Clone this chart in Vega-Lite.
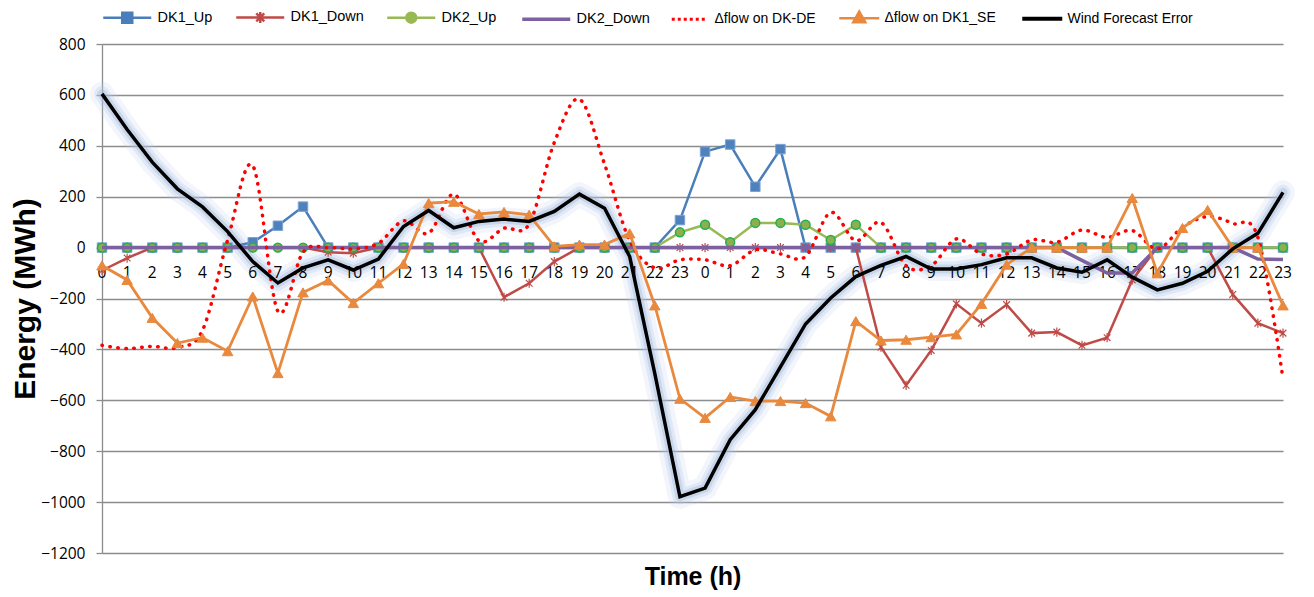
{
"$schema": "https://vega.github.io/schema/vega-lite/v6.json",
"width": 1181, "height": 509,
"autosize": {"type": "none"},
"padding": {"left": 102, "top": 44, "right": 31, "bottom": 44},
"background": "white",
"config": {"view": {"stroke": null}},
"data": {"values": [
{"i":0,"h":0,"s":"DK1_Up","v":0},{"i":1,"h":1,"s":"DK1_Up","v":0},{"i":2,"h":2,"s":"DK1_Up","v":0},{"i":3,"h":3,"s":"DK1_Up","v":0},{"i":4,"h":4,"s":"DK1_Up","v":0},{"i":5,"h":5,"s":"DK1_Up","v":0},{"i":6,"h":6,"s":"DK1_Up","v":21},{"i":7,"h":7,"s":"DK1_Up","v":86},{"i":8,"h":8,"s":"DK1_Up","v":161},{"i":9,"h":9,"s":"DK1_Up","v":0},{"i":10,"h":10,"s":"DK1_Up","v":0},{"i":11,"h":11,"s":"DK1_Up","v":0},{"i":12,"h":12,"s":"DK1_Up","v":0},{"i":13,"h":13,"s":"DK1_Up","v":0},{"i":14,"h":14,"s":"DK1_Up","v":0},{"i":15,"h":15,"s":"DK1_Up","v":0},{"i":16,"h":16,"s":"DK1_Up","v":0},{"i":17,"h":17,"s":"DK1_Up","v":0},{"i":18,"h":18,"s":"DK1_Up","v":0},{"i":19,"h":19,"s":"DK1_Up","v":0},{"i":20,"h":20,"s":"DK1_Up","v":0},{"i":21,"h":21,"s":"DK1_Up","v":0},{"i":22,"h":22,"s":"DK1_Up","v":0},{"i":23,"h":23,"s":"DK1_Up","v":108},
{"i":24,"h":0,"s":"DK1_Up","v":377},{"i":25,"h":1,"s":"DK1_Up","v":405},{"i":26,"h":2,"s":"DK1_Up","v":239},{"i":27,"h":3,"s":"DK1_Up","v":387},{"i":28,"h":4,"s":"DK1_Up","v":0},{"i":29,"h":5,"s":"DK1_Up","v":0},{"i":30,"h":6,"s":"DK1_Up","v":0},{"i":31,"h":7,"s":"DK1_Up","v":0},{"i":32,"h":8,"s":"DK1_Up","v":0},{"i":33,"h":9,"s":"DK1_Up","v":0},{"i":34,"h":10,"s":"DK1_Up","v":0},{"i":35,"h":11,"s":"DK1_Up","v":0},{"i":36,"h":12,"s":"DK1_Up","v":0},{"i":37,"h":13,"s":"DK1_Up","v":0},{"i":38,"h":14,"s":"DK1_Up","v":0},{"i":39,"h":15,"s":"DK1_Up","v":0},{"i":40,"h":16,"s":"DK1_Up","v":0},{"i":41,"h":17,"s":"DK1_Up","v":0},{"i":42,"h":18,"s":"DK1_Up","v":0},{"i":43,"h":19,"s":"DK1_Up","v":0},{"i":44,"h":20,"s":"DK1_Up","v":0},{"i":45,"h":21,"s":"DK1_Up","v":0},{"i":46,"h":22,"s":"DK1_Up","v":0},{"i":47,"h":23,"s":"DK1_Up","v":0},
{"i":0,"h":0,"s":"DK1_Down","v":-90},{"i":1,"h":1,"s":"DK1_Down","v":-41},{"i":2,"h":2,"s":"DK1_Down","v":0},{"i":3,"h":3,"s":"DK1_Down","v":0},{"i":4,"h":4,"s":"DK1_Down","v":0},{"i":5,"h":5,"s":"DK1_Down","v":0},{"i":6,"h":6,"s":"DK1_Down","v":0},{"i":7,"h":7,"s":"DK1_Down","v":0},{"i":8,"h":8,"s":"DK1_Down","v":0},{"i":9,"h":9,"s":"DK1_Down","v":-18},{"i":10,"h":10,"s":"DK1_Down","v":-22},{"i":11,"h":11,"s":"DK1_Down","v":0},{"i":12,"h":12,"s":"DK1_Down","v":0},{"i":13,"h":13,"s":"DK1_Down","v":0},{"i":14,"h":14,"s":"DK1_Down","v":0},{"i":15,"h":15,"s":"DK1_Down","v":0},{"i":16,"h":16,"s":"DK1_Down","v":-195},{"i":17,"h":17,"s":"DK1_Down","v":-140},{"i":18,"h":18,"s":"DK1_Down","v":-55},{"i":19,"h":19,"s":"DK1_Down","v":0},{"i":20,"h":20,"s":"DK1_Down","v":0},{"i":21,"h":21,"s":"DK1_Down","v":0},{"i":22,"h":22,"s":"DK1_Down","v":0},{"i":23,"h":23,"s":"DK1_Down","v":0},
{"i":24,"h":0,"s":"DK1_Down","v":0},{"i":25,"h":1,"s":"DK1_Down","v":0},{"i":26,"h":2,"s":"DK1_Down","v":0},{"i":27,"h":3,"s":"DK1_Down","v":0},{"i":28,"h":4,"s":"DK1_Down","v":0},{"i":29,"h":5,"s":"DK1_Down","v":0},{"i":30,"h":6,"s":"DK1_Down","v":0},{"i":31,"h":7,"s":"DK1_Down","v":-391},{"i":32,"h":8,"s":"DK1_Down","v":-541},{"i":33,"h":9,"s":"DK1_Down","v":-404},{"i":34,"h":10,"s":"DK1_Down","v":-221},{"i":35,"h":11,"s":"DK1_Down","v":-297},{"i":36,"h":12,"s":"DK1_Down","v":-224},{"i":37,"h":13,"s":"DK1_Down","v":-336},{"i":38,"h":14,"s":"DK1_Down","v":-332},{"i":39,"h":15,"s":"DK1_Down","v":-384},{"i":40,"h":16,"s":"DK1_Down","v":-354},{"i":41,"h":17,"s":"DK1_Down","v":-127},{"i":42,"h":18,"s":"DK1_Down","v":0},{"i":43,"h":19,"s":"DK1_Down","v":0},{"i":44,"h":20,"s":"DK1_Down","v":0},{"i":45,"h":21,"s":"DK1_Down","v":-184},{"i":46,"h":22,"s":"DK1_Down","v":-297},{"i":47,"h":23,"s":"DK1_Down","v":-336},
{"i":0,"h":0,"s":"DK2_Up","v":0},{"i":1,"h":1,"s":"DK2_Up","v":0},{"i":2,"h":2,"s":"DK2_Up","v":0},{"i":3,"h":3,"s":"DK2_Up","v":0},{"i":4,"h":4,"s":"DK2_Up","v":0},{"i":5,"h":5,"s":"DK2_Up","v":0},{"i":6,"h":6,"s":"DK2_Up","v":0},{"i":7,"h":7,"s":"DK2_Up","v":0},{"i":8,"h":8,"s":"DK2_Up","v":0},{"i":9,"h":9,"s":"DK2_Up","v":0},{"i":10,"h":10,"s":"DK2_Up","v":0},{"i":11,"h":11,"s":"DK2_Up","v":0},{"i":12,"h":12,"s":"DK2_Up","v":0},{"i":13,"h":13,"s":"DK2_Up","v":0},{"i":14,"h":14,"s":"DK2_Up","v":0},{"i":15,"h":15,"s":"DK2_Up","v":0},{"i":16,"h":16,"s":"DK2_Up","v":0},{"i":17,"h":17,"s":"DK2_Up","v":0},{"i":18,"h":18,"s":"DK2_Up","v":0},{"i":19,"h":19,"s":"DK2_Up","v":0},{"i":20,"h":20,"s":"DK2_Up","v":0},{"i":21,"h":21,"s":"DK2_Up","v":0},{"i":22,"h":22,"s":"DK2_Up","v":0},{"i":23,"h":23,"s":"DK2_Up","v":60},
{"i":24,"h":0,"s":"DK2_Up","v":90},{"i":25,"h":1,"s":"DK2_Up","v":21},{"i":26,"h":2,"s":"DK2_Up","v":97},{"i":27,"h":3,"s":"DK2_Up","v":97},{"i":28,"h":4,"s":"DK2_Up","v":90},{"i":29,"h":5,"s":"DK2_Up","v":30},{"i":30,"h":6,"s":"DK2_Up","v":90},{"i":31,"h":7,"s":"DK2_Up","v":0},{"i":32,"h":8,"s":"DK2_Up","v":0},{"i":33,"h":9,"s":"DK2_Up","v":0},{"i":34,"h":10,"s":"DK2_Up","v":0},{"i":35,"h":11,"s":"DK2_Up","v":0},{"i":36,"h":12,"s":"DK2_Up","v":0},{"i":37,"h":13,"s":"DK2_Up","v":0},{"i":38,"h":14,"s":"DK2_Up","v":0},{"i":39,"h":15,"s":"DK2_Up","v":0},{"i":40,"h":16,"s":"DK2_Up","v":0},{"i":41,"h":17,"s":"DK2_Up","v":0},{"i":42,"h":18,"s":"DK2_Up","v":0},{"i":43,"h":19,"s":"DK2_Up","v":0},{"i":44,"h":20,"s":"DK2_Up","v":0},{"i":45,"h":21,"s":"DK2_Up","v":0},{"i":46,"h":22,"s":"DK2_Up","v":0},{"i":47,"h":23,"s":"DK2_Up","v":0},
{"i":0,"h":0,"s":"DK2_Down","v":0},{"i":1,"h":1,"s":"DK2_Down","v":0},{"i":2,"h":2,"s":"DK2_Down","v":0},{"i":3,"h":3,"s":"DK2_Down","v":0},{"i":4,"h":4,"s":"DK2_Down","v":0},{"i":5,"h":5,"s":"DK2_Down","v":0},{"i":6,"h":6,"s":"DK2_Down","v":0},{"i":7,"h":7,"s":"DK2_Down","v":0},{"i":8,"h":8,"s":"DK2_Down","v":0},{"i":9,"h":9,"s":"DK2_Down","v":0},{"i":10,"h":10,"s":"DK2_Down","v":0},{"i":11,"h":11,"s":"DK2_Down","v":0},{"i":12,"h":12,"s":"DK2_Down","v":0},{"i":13,"h":13,"s":"DK2_Down","v":0},{"i":14,"h":14,"s":"DK2_Down","v":0},{"i":15,"h":15,"s":"DK2_Down","v":0},{"i":16,"h":16,"s":"DK2_Down","v":0},{"i":17,"h":17,"s":"DK2_Down","v":0},{"i":18,"h":18,"s":"DK2_Down","v":0},{"i":19,"h":19,"s":"DK2_Down","v":0},{"i":20,"h":20,"s":"DK2_Down","v":0},{"i":21,"h":21,"s":"DK2_Down","v":0},{"i":22,"h":22,"s":"DK2_Down","v":0},{"i":23,"h":23,"s":"DK2_Down","v":0},
{"i":24,"h":0,"s":"DK2_Down","v":0},{"i":25,"h":1,"s":"DK2_Down","v":0},{"i":26,"h":2,"s":"DK2_Down","v":0},{"i":27,"h":3,"s":"DK2_Down","v":0},{"i":28,"h":4,"s":"DK2_Down","v":0},{"i":29,"h":5,"s":"DK2_Down","v":0},{"i":30,"h":6,"s":"DK2_Down","v":0},{"i":31,"h":7,"s":"DK2_Down","v":0},{"i":32,"h":8,"s":"DK2_Down","v":0},{"i":33,"h":9,"s":"DK2_Down","v":0},{"i":34,"h":10,"s":"DK2_Down","v":0},{"i":35,"h":11,"s":"DK2_Down","v":0},{"i":36,"h":12,"s":"DK2_Down","v":0},{"i":37,"h":13,"s":"DK2_Down","v":0},{"i":38,"h":14,"s":"DK2_Down","v":0},{"i":39,"h":15,"s":"DK2_Down","v":-50},{"i":40,"h":16,"s":"DK2_Down","v":-100},{"i":41,"h":17,"s":"DK2_Down","v":-100},{"i":42,"h":18,"s":"DK2_Down","v":0},{"i":43,"h":19,"s":"DK2_Down","v":0},{"i":44,"h":20,"s":"DK2_Down","v":0},{"i":45,"h":21,"s":"DK2_Down","v":0},{"i":46,"h":22,"s":"DK2_Down","v":-45},{"i":47,"h":23,"s":"DK2_Down","v":-47},
{"i":0,"h":0,"s":"Δflow on DK-DE","v":-384},{"i":1,"h":1,"s":"Δflow on DK-DE","v":-397},{"i":2,"h":2,"s":"Δflow on DK-DE","v":-388},{"i":3,"h":3,"s":"Δflow on DK-DE","v":-393},{"i":4,"h":4,"s":"Δflow on DK-DE","v":-325},{"i":5,"h":5,"s":"Δflow on DK-DE","v":30},{"i":6,"h":6,"s":"Δflow on DK-DE","v":322},{"i":7,"h":7,"s":"Δflow on DK-DE","v":-250},{"i":8,"h":8,"s":"Δflow on DK-DE","v":-18},{"i":9,"h":9,"s":"Δflow on DK-DE","v":0},{"i":10,"h":10,"s":"Δflow on DK-DE","v":-5},{"i":11,"h":11,"s":"Δflow on DK-DE","v":17},{"i":12,"h":12,"s":"Δflow on DK-DE","v":105},{"i":13,"h":13,"s":"Δflow on DK-DE","v":57},{"i":14,"h":14,"s":"Δflow on DK-DE","v":210},{"i":15,"h":15,"s":"Δflow on DK-DE","v":27},{"i":16,"h":16,"s":"Δflow on DK-DE","v":76},{"i":17,"h":17,"s":"Δflow on DK-DE","v":93},{"i":18,"h":18,"s":"Δflow on DK-DE","v":413},{"i":19,"h":19,"s":"Δflow on DK-DE","v":583},{"i":20,"h":20,"s":"Δflow on DK-DE","v":328},{"i":21,"h":21,"s":"Δflow on DK-DE","v":27},{"i":22,"h":22,"s":"Δflow on DK-DE","v":-80},{"i":23,"h":23,"s":"Δflow on DK-DE","v":-48},
{"i":24,"h":0,"s":"Δflow on DK-DE","v":-48},{"i":25,"h":1,"s":"Δflow on DK-DE","v":-71},{"i":26,"h":2,"s":"Δflow on DK-DE","v":-9},{"i":27,"h":3,"s":"Δflow on DK-DE","v":-25},{"i":28,"h":4,"s":"Δflow on DK-DE","v":-35},{"i":29,"h":5,"s":"Δflow on DK-DE","v":138},{"i":30,"h":6,"s":"Δflow on DK-DE","v":27},{"i":31,"h":7,"s":"Δflow on DK-DE","v":99},{"i":32,"h":8,"s":"Δflow on DK-DE","v":-71},{"i":33,"h":9,"s":"Δflow on DK-DE","v":-71},{"i":34,"h":10,"s":"Δflow on DK-DE","v":34},{"i":35,"h":11,"s":"Δflow on DK-DE","v":-25},{"i":36,"h":12,"s":"Δflow on DK-DE","v":-25},{"i":37,"h":13,"s":"Δflow on DK-DE","v":30},{"i":38,"h":14,"s":"Δflow on DK-DE","v":21},{"i":39,"h":15,"s":"Δflow on DK-DE","v":69},{"i":40,"h":16,"s":"Δflow on DK-DE","v":40},{"i":41,"h":17,"s":"Δflow on DK-DE","v":67},{"i":42,"h":18,"s":"Δflow on DK-DE","v":-5},{"i":43,"h":19,"s":"Δflow on DK-DE","v":80},{"i":44,"h":20,"s":"Δflow on DK-DE","v":122},{"i":45,"h":21,"s":"Δflow on DK-DE","v":95},{"i":46,"h":22,"s":"Δflow on DK-DE","v":40},{"i":47,"h":23,"s":"Δflow on DK-DE","v":-515},
{"i":0,"h":0,"s":"Δflow on DK1_SE","v":-70},{"i":1,"h":1,"s":"Δflow on DK1_SE","v":-127},{"i":2,"h":2,"s":"Δflow on DK1_SE","v":-276},{"i":3,"h":3,"s":"Δflow on DK1_SE","v":-375},{"i":4,"h":4,"s":"Δflow on DK1_SE","v":-354},{"i":5,"h":5,"s":"Δflow on DK1_SE","v":-407},{"i":6,"h":6,"s":"Δflow on DK1_SE","v":-192},{"i":7,"h":7,"s":"Δflow on DK1_SE","v":-493},{"i":8,"h":8,"s":"Δflow on DK1_SE","v":-176},{"i":9,"h":9,"s":"Δflow on DK1_SE","v":-129},{"i":10,"h":10,"s":"Δflow on DK1_SE","v":-218},{"i":11,"h":11,"s":"Δflow on DK1_SE","v":-140},{"i":12,"h":12,"s":"Δflow on DK1_SE","v":-64},{"i":13,"h":13,"s":"Δflow on DK1_SE","v":175},{"i":14,"h":14,"s":"Δflow on DK1_SE","v":180},{"i":15,"h":15,"s":"Δflow on DK1_SE","v":132},{"i":16,"h":16,"s":"Δflow on DK1_SE","v":140},{"i":17,"h":17,"s":"Δflow on DK1_SE","v":129},{"i":18,"h":18,"s":"Δflow on DK1_SE","v":5},{"i":19,"h":19,"s":"Δflow on DK1_SE","v":12},{"i":20,"h":20,"s":"Δflow on DK1_SE","v":12},{"i":21,"h":21,"s":"Δflow on DK1_SE","v":56},{"i":22,"h":22,"s":"Δflow on DK1_SE","v":-227},{"i":23,"h":23,"s":"Δflow on DK1_SE","v":-594},
{"i":24,"h":0,"s":"Δflow on DK1_SE","v":-669},{"i":25,"h":1,"s":"Δflow on DK1_SE","v":-587},{"i":26,"h":2,"s":"Δflow on DK1_SE","v":-603},{"i":27,"h":3,"s":"Δflow on DK1_SE","v":-603},{"i":28,"h":4,"s":"Δflow on DK1_SE","v":-611},{"i":29,"h":5,"s":"Δflow on DK1_SE","v":-663},{"i":30,"h":6,"s":"Δflow on DK1_SE","v":-289},{"i":31,"h":7,"s":"Δflow on DK1_SE","v":-365},{"i":32,"h":8,"s":"Δflow on DK1_SE","v":-362},{"i":33,"h":9,"s":"Δflow on DK1_SE","v":-352},{"i":34,"h":10,"s":"Δflow on DK1_SE","v":-341},{"i":35,"h":11,"s":"Δflow on DK1_SE","v":-221},{"i":36,"h":12,"s":"Δflow on DK1_SE","v":-67},{"i":37,"h":13,"s":"Δflow on DK1_SE","v":0},{"i":38,"h":14,"s":"Δflow on DK1_SE","v":0},{"i":39,"h":15,"s":"Δflow on DK1_SE","v":0},{"i":40,"h":16,"s":"Δflow on DK1_SE","v":0},{"i":41,"h":17,"s":"Δflow on DK1_SE","v":195},{"i":42,"h":18,"s":"Δflow on DK1_SE","v":-101},{"i":43,"h":19,"s":"Δflow on DK1_SE","v":77},{"i":44,"h":20,"s":"Δflow on DK1_SE","v":148},{"i":45,"h":21,"s":"Δflow on DK1_SE","v":0},{"i":46,"h":22,"s":"Δflow on DK1_SE","v":0},{"i":47,"h":23,"s":"Δflow on DK1_SE","v":-227},
{"i":0,"h":0,"s":"Wind Forecast Error","v":604},{"i":1,"h":1,"s":"Wind Forecast Error","v":464},{"i":2,"h":2,"s":"Wind Forecast Error","v":336},{"i":3,"h":3,"s":"Wind Forecast Error","v":231},{"i":4,"h":4,"s":"Wind Forecast Error","v":160},{"i":5,"h":5,"s":"Wind Forecast Error","v":63},{"i":6,"h":6,"s":"Wind Forecast Error","v":-55},{"i":7,"h":7,"s":"Wind Forecast Error","v":-139},{"i":8,"h":8,"s":"Wind Forecast Error","v":-80},{"i":9,"h":9,"s":"Wind Forecast Error","v":-48},{"i":10,"h":10,"s":"Wind Forecast Error","v":-88},{"i":11,"h":11,"s":"Wind Forecast Error","v":-45},{"i":12,"h":12,"s":"Wind Forecast Error","v":83},{"i":13,"h":13,"s":"Wind Forecast Error","v":146},{"i":14,"h":14,"s":"Wind Forecast Error","v":78},{"i":15,"h":15,"s":"Wind Forecast Error","v":103},{"i":16,"h":16,"s":"Wind Forecast Error","v":112},{"i":17,"h":17,"s":"Wind Forecast Error","v":103},{"i":18,"h":18,"s":"Wind Forecast Error","v":142},{"i":19,"h":19,"s":"Wind Forecast Error","v":210},{"i":20,"h":20,"s":"Wind Forecast Error","v":155},{"i":21,"h":21,"s":"Wind Forecast Error","v":-35},{"i":22,"h":22,"s":"Wind Forecast Error","v":-495},{"i":23,"h":23,"s":"Wind Forecast Error","v":-979},
{"i":24,"h":0,"s":"Wind Forecast Error","v":-945},{"i":25,"h":1,"s":"Wind Forecast Error","v":-755},{"i":26,"h":2,"s":"Wind Forecast Error","v":-637},{"i":27,"h":3,"s":"Wind Forecast Error","v":-469},{"i":28,"h":4,"s":"Wind Forecast Error","v":-300},{"i":29,"h":5,"s":"Wind Forecast Error","v":-198},{"i":30,"h":6,"s":"Wind Forecast Error","v":-114},{"i":31,"h":7,"s":"Wind Forecast Error","v":-70},{"i":32,"h":8,"s":"Wind Forecast Error","v":-35},{"i":33,"h":9,"s":"Wind Forecast Error","v":-84},{"i":34,"h":10,"s":"Wind Forecast Error","v":-84},{"i":35,"h":11,"s":"Wind Forecast Error","v":-67},{"i":36,"h":12,"s":"Wind Forecast Error","v":-40},{"i":37,"h":13,"s":"Wind Forecast Error","v":-40},{"i":38,"h":14,"s":"Wind Forecast Error","v":-80},{"i":39,"h":15,"s":"Wind Forecast Error","v":-97},{"i":40,"h":16,"s":"Wind Forecast Error","v":-48},{"i":41,"h":17,"s":"Wind Forecast Error","v":-116},{"i":42,"h":18,"s":"Wind Forecast Error","v":-166},{"i":43,"h":19,"s":"Wind Forecast Error","v":-140},{"i":44,"h":20,"s":"Wind Forecast Error","v":-93},{"i":45,"h":21,"s":"Wind Forecast Error","v":-5},{"i":46,"h":22,"s":"Wind Forecast Error","v":56},{"i":47,"h":23,"s":"Wind Forecast Error","v":217}
]},
"encoding": {
  "x": {"field": "i", "type": "quantitative", "scale": {"domain": [0, 47], "nice": false, "zero": false},
        "axis": {"title": "Time (h)", "labels": false, "ticks": false, "domain": false, "grid": false,
                 "titleFont": "Liberation Sans", "titleFontSize": 25, "titleFontWeight": "bold", "titleColor": "black", "titlePadding": 11}},
  "y": {"field": "v", "type": "quantitative", "scale": {"domain": [-1200, 800], "nice": false, "zero": false},
        "axis": {"title": "Energy (MWh)", "values": [-1200, -1000, -800, -600, -400, -200, 0, 200, 400, 600, 800], "format": "d",
                 "grid": true, "gridColor": "#8c8c8c", "gridWidth": 1.3, "domainColor": "#8c8c8c", "domainWidth": 1.3,
                 "tickColor": "#8c8c8c", "tickSize": 6, "tickWidth": 1.3,
                 "labelFont": "Open Sans", "labelFontSize": 15.5, "labelColor": "black", "labelPadding": 11,
                 "titleFont": "Liberation Sans", "titleFontSize": 30, "titleFontWeight": "bold", "titleColor": "black", "titlePadding": 0}}
},
"layer": [
  {"transform": [{"filter": "datum.s === 'Wind Forecast Error'"}],
   "mark": {"type": "line", "color": "#bccfe9", "strokeWidth": 24, "opacity": 0.2, "strokeJoin": "round", "strokeCap": "round"}, "encoding": {}},
  {"transform": [{"filter": "datum.s === 'Wind Forecast Error'"}],
   "mark": {"type": "line", "color": "#b0c4e4", "strokeWidth": 15, "opacity": 0.28, "strokeJoin": "round", "strokeCap": "round"}, "encoding": {}},
  {"transform": [{"filter": "datum.s === 'Wind Forecast Error'"}],
   "mark": {"type": "line", "color": "#a3b9de", "strokeWidth": 9, "opacity": 0.38, "strokeJoin": "round", "strokeCap": "round"}, "encoding": {}},
  {"transform": [{"filter": "datum.s === 'Wind Forecast Error'"}],
   "mark": {"type": "text", "font": "Open Sans", "fontSize": 15.5, "color": "black", "baseline": "middle", "align": "center", "dy": 25},
   "encoding": {"y": {"datum": 0}, "text": {"field": "h", "type": "nominal"}}},
  {"transform": [{"filter": "datum.s === 'DK1_Up'"}],
   "mark": {"type": "line", "strokeWidth": 2.5},
   "encoding": {"color": {"field": "s", "type": "nominal",
      "scale": {"domain": ["DK1_Up", "DK1_Down", "DK2_Up", "DK2_Down", "Δflow on DK-DE", "Δflow on DK1_SE", "Wind Forecast Error"],
                "range": ["#4a7ebb", "#be4b48", "#98b954", "#7d60a0", "#ff0000", "#e8893e", "#000000"]},
      "legend": {"title": null, "orient": "top", "direction": "horizontal", "offset": 16, "padding": 0,
                 "symbolSize": 100, "symbolOffset": 18, "labelOffset": 23, "columnPadding": 18,
                 "labelFont": "Liberation Sans", "labelFontSize": 14.5, "labelColor": "black", "labelLimit": 300,
                 "symbolStrokeWidth": 2.5,
                 "encode": {
                   "labels": {"update": {
                     "fontSize": {"signal": "indexof(['Δflow on DK-DE', 'Δflow on DK1_SE', 'Wind Forecast Error'], datum.value) >= 0 ? 14 : 14.5"},
                     "dx": {"signal": "indexof(['Δflow on DK-DE', 'Δflow on DK1_SE', 'Wind Forecast Error'], datum.value) >= 0 ? -9 : 0"}}},
                   "symbols": {"update": {
                    "shape": {"signal": "datum.value === 'DK1_Up' ? 'M-4.8,0H4.8M-1,-1H1V1H-1Z' : datum.value === 'DK1_Down' ? 'M-4.8,0H4.8M-0.8,-0.8L0.8,0.8M-0.8,0.8L0.8,-0.8M0,-1.1V1.1' : datum.value === 'DK2_Up' ? 'M-4.8,0H4.8M-1,0A1,1 0 1,0 1,0A1,1 0 1,0 -1,0Z' : datum.value === 'Δflow on DK-DE' ? 'M-4.05,-0.05h0.1v0.1h-0.1zM-2.85,-0.05h0.1v0.1h-0.1zM-1.65,-0.05h0.1v0.1h-0.1zM-0.45,-0.05h0.1v0.1h-0.1zM0.75,-0.05h0.1v0.1h-0.1zM1.95,-0.05h0.1v0.1h-0.1z' : datum.value === 'Δflow on DK1_SE' ? 'M-4.8,0H3.2M-0.8,-1.3L0.4,0.8H-2Z' : datum.value === 'Wind Forecast Error' ? 'M-4.8,0H3.2' : 'M-4.8,0H4.8'"},
                    "fill": {"scale": "color", "field": "value"},
                    "stroke": {"scale": "color", "field": "value"},
                    "strokeWidth": {"signal": "datum.value === 'Wind Forecast Error' ? 4 : datum.value === 'DK2_Down' ? 3.5 : 2.5"},
                    "opacity": {"value": 1}}}}}}}},
  {"transform": [{"filter": "datum.s === 'DK1_Up'"}],
   "mark": {"type": "point", "shape": "square", "filled": true, "size": 90, "fill": "#4f81bd", "stroke": "#7da3d5", "strokeWidth": 1, "opacity": 1}},
  {"transform": [{"filter": "datum.s === 'DK1_Down'"}],
   "mark": {"type": "line", "strokeWidth": 2.5},
   "encoding": {"color": {"field": "s", "type": "nominal",
      "scale": {"domain": ["DK1_Up", "DK1_Down", "DK2_Up", "DK2_Down", "Δflow on DK-DE", "Δflow on DK1_SE", "Wind Forecast Error"],
                "range": ["#4a7ebb", "#be4b48", "#98b954", "#7d60a0", "#ff0000", "#e8893e", "#000000"]}}}},
  {"transform": [{"filter": "datum.s === 'DK1_Down'"}],
   "mark": {"type": "point", "shape": "M-0.8,-0.8L0.8,0.8M-0.8,0.8L0.8,-0.8M0,-1.1V1.1", "filled": false, "size": 70, "stroke": "#be4b48", "strokeWidth": 1.2, "opacity": 1}},
  {"transform": [{"filter": "datum.s === 'DK2_Up'"}],
   "mark": {"type": "line", "strokeWidth": 2.5},
   "encoding": {"color": {"field": "s", "type": "nominal",
      "scale": {"domain": ["DK1_Up", "DK1_Down", "DK2_Up", "DK2_Down", "Δflow on DK-DE", "Δflow on DK1_SE", "Wind Forecast Error"],
                "range": ["#4a7ebb", "#be4b48", "#98b954", "#7d60a0", "#ff0000", "#e8893e", "#000000"]}}}},
  {"transform": [{"filter": "datum.s === 'DK2_Up'"}],
   "mark": {"type": "point", "shape": "circle", "filled": true, "size": 80, "fill": "#8fae4e", "stroke": "#1fb14f", "strokeWidth": 1.5, "opacity": 1}},
  {"transform": [{"filter": "datum.s === 'DK2_Down'"}],
   "mark": {"type": "line", "strokeWidth": 3.5},
   "encoding": {"color": {"field": "s", "type": "nominal",
      "scale": {"domain": ["DK1_Up", "DK1_Down", "DK2_Up", "DK2_Down", "Δflow on DK-DE", "Δflow on DK1_SE", "Wind Forecast Error"],
                "range": ["#4a7ebb", "#be4b48", "#98b954", "#7d60a0", "#ff0000", "#e8893e", "#000000"]}}}},
  {"transform": [{"filter": "datum.s === 'Δflow on DK-DE'"}],
   "mark": {"type": "line", "strokeWidth": 3.5, "interpolate": "cardinal", "strokeDash": [0.5, 7.5], "strokeCap": "round"},
   "encoding": {"color": {"field": "s", "type": "nominal",
      "scale": {"domain": ["DK1_Up", "DK1_Down", "DK2_Up", "DK2_Down", "Δflow on DK-DE", "Δflow on DK1_SE", "Wind Forecast Error"],
                "range": ["#4a7ebb", "#be4b48", "#98b954", "#7d60a0", "#ff0000", "#e8893e", "#000000"]}}}},
  {"transform": [{"filter": "datum.s === 'Δflow on DK1_SE'"}],
   "mark": {"type": "line", "strokeWidth": 2.8},
   "encoding": {"color": {"field": "s", "type": "nominal",
      "scale": {"domain": ["DK1_Up", "DK1_Down", "DK2_Up", "DK2_Down", "Δflow on DK-DE", "Δflow on DK1_SE", "Wind Forecast Error"],
                "range": ["#4a7ebb", "#be4b48", "#98b954", "#7d60a0", "#ff0000", "#e8893e", "#000000"]}}}},
  {"transform": [{"filter": "datum.s === 'Δflow on DK1_SE'"}],
   "mark": {"type": "point", "shape": "triangle-up", "filled": true, "size": 110, "fill": "#e8893e", "stroke": "#e8893e", "strokeWidth": 1, "opacity": 1}},
  {"transform": [{"filter": "datum.s === 'Wind Forecast Error'"}],
   "mark": {"type": "line", "strokeWidth": 3.5, "strokeJoin": "miter"},
   "encoding": {"color": {"field": "s", "type": "nominal",
      "scale": {"domain": ["DK1_Up", "DK1_Down", "DK2_Up", "DK2_Down", "Δflow on DK-DE", "Δflow on DK1_SE", "Wind Forecast Error"],
                "range": ["#4a7ebb", "#be4b48", "#98b954", "#7d60a0", "#ff0000", "#e8893e", "#000000"]}}}}
]
}
